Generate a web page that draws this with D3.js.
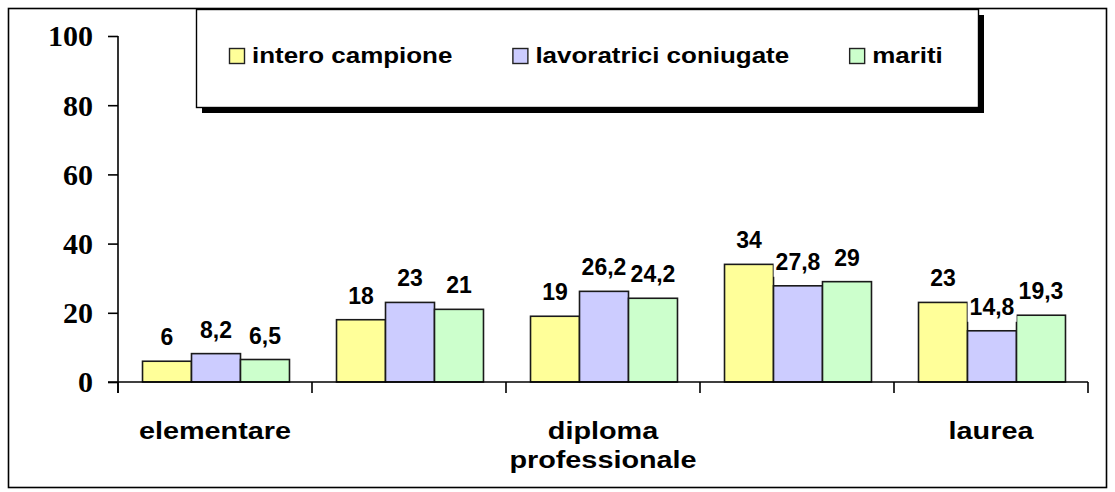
<!DOCTYPE html>
<html>
<head>
<meta charset="utf-8">
<script src="https://cdn.jsdelivr.net/npm/d3@7"></script>
<style>
  body { margin: 0; background: #fff; }
  svg { display: block; }
</style>
</head>
<body>
<svg id="chart"></svg>
<script>
// data
var categories = ["elementare", "c2", "diploma professionale", "c4", "laurea"];
var tickLabels = [["elementare"], [], ["diploma", "professionale"], [], ["laurea"]];
var seriesNames = ["intero campione", "lavoratrici coniugate", "mariti"];
var interoCampione = [6, 18, 19, 34, 23];
var lavoratriciConiugate = [8.2, 23, 26.2, 27.8, 14.8];
var mariti = [6.5, 21, 24.2, 29, 19.3];
var yTicks = [0, 20, 40, 60, 80, 100];
var colors = ["#FFFF99", "#CCCCFF", "#CCFFCC"];

var seriesValues = [interoCampione, lavoratriciConiugate, mariti];

var width = 1115, height = 492;
var margin = { top: 36, right: 27, bottom: 110, left: 118 };

var svg = d3.select("#chart")
  .attr("width", width)
  .attr("height", height);

var sans = "'Liberation Sans', Arial, sans-serif";
var serif = "'Liberation Serif', 'Times New Roman', serif";

// outer frame
svg.append("rect")
  .attr("x", 8.5).attr("y", 8.5)
  .attr("width", 1098).attr("height", 479)
  .attr("fill", "none")
  .attr("stroke", "#000")
  .attr("stroke-width", 1.6);

var x0 = d3.scaleBand()
  .domain(d3.range(categories.length))
  .range([margin.left, width - margin.right])
  .padding(0);

var x1 = d3.scaleBand()
  .domain(d3.range(seriesNames.length))
  .range([0, x0.bandwidth()])
  .paddingInner(0)
  .paddingOuter(0.48);

var y = d3.scaleLinear()
  .domain([0, 100])
  .range([height - margin.bottom, margin.top]);

// bars
var groups = svg.append("g").selectAll("g")
  .data(categories)
  .enter().append("g")
  .attr("transform", function(d, i) { return "translate(" + (x0(i) + 1) + ",0)"; });

groups.selectAll("rect")
  .data(function(d, i) {
    return seriesValues.map(function(vals, s) { return { s: s, v: vals[i] }; });
  })
  .enter().append("rect")
  .attr("x", function(d) { return x1(d.s); })
  .attr("width", x1.bandwidth())
  .attr("y", function(d) { return y(d.v); })
  .attr("height", function(d) { return y(0) - y(d.v); })
  .attr("fill", function(d) { return colors[d.s]; })
  .attr("stroke", "#1a1a1a")
  .attr("stroke-width", 1.6);

// value labels with white background
var labels = groups.selectAll("g.lab")
  .data(function(d, i) {
    return seriesValues.map(function(vals, s) { return { s: s, v: vals[i] }; });
  })
  .enter().append("g").attr("class", "lab");

labels.append("rect").attr("fill", "#fff");
labels.append("text")
  .attr("x", function(d) { return x1(d.s) + x1.bandwidth() / 2; })
  .attr("y", function(d) { return y(d.v) - 16; })
  .attr("text-anchor", "middle")
  .style("font-family", sans)
  .style("font-weight", "bold")
  .style("font-size", "23px")
  .text(function(d) { return String(d.v).replace(".", ","); });

labels.each(function() {
  var g = d3.select(this);
  var b = g.select("text").node().getBBox();
  g.select("rect")
    .attr("x", b.x - 2).attr("y", b.y + 2)
    .attr("width", b.width + 4).attr("height", b.height);
});

// y axis
var yAxis = d3.axisLeft(y)
  .tickValues(yTicks)
  .tickSize(10)
  .tickPadding(15)
  .tickFormat(d3.format("d"));

var gy = svg.append("g")
  .attr("transform", "translate(" + margin.left + ",0)")
  .call(yAxis);
gy.select(".domain").remove();
gy.selectAll("line").attr("stroke", "#000").attr("stroke-width", 1.6);
gy.selectAll("text")
  .style("font-family", serif)
  .style("font-weight", "bold")
  .style("font-size", "30px")
  .attr("fill", "#000")
  .attr("dy", "0.33em");
gy.append("line")
  .attr("x1", 0).attr("x2", 0)
  .attr("y1", y(100)).attr("y2", y(0) + 11)
  .attr("stroke", "#000").attr("stroke-width", 1.6);

// x axis
var gx = svg.append("g")
  .attr("transform", "translate(0," + y(0) + ")");
gx.append("line")
  .attr("x1", margin.left - 10).attr("x2", width - margin.right)
  .attr("stroke", "#000").attr("stroke-width", 1.6);
gx.selectAll("line.tick")
  .data(d3.range(categories.length + 1))
  .enter().append("line")
  .attr("class", "tick")
  .attr("x1", function(i) { return margin.left + i * x0.bandwidth(); })
  .attr("x2", function(i) { return margin.left + i * x0.bandwidth(); })
  .attr("y1", 0).attr("y2", 11)
  .attr("stroke", "#000").attr("stroke-width", 1.6);

var stretch = 1.2;
gx.selectAll("text.cat")
  .data(tickLabels)
  .enter().append("text")
  .attr("class", "cat")
  .attr("text-anchor", "middle")
  .attr("transform", function(d, i) {
    return "translate(" + (x0(i) + x0.bandwidth() / 2) + ",57) scale(" + stretch + ",1)";
  })
  .style("font-family", sans)
  .style("font-weight", "bold")
  .style("font-size", "24px")
  .selectAll("tspan")
  .data(function(d) { return d; })
  .enter().append("tspan")
  .attr("x", 0)
  .attr("y", function(d, j) { return j * 29; })
  .text(function(d) { return d; });

// legend
var legend = svg.append("g");
legend.append("rect")
  .attr("x", 202).attr("y", 15)
  .attr("width", 782).attr("height", 98)
  .attr("fill", "#000");
legend.append("rect")
  .attr("x", 196.5).attr("y", 9.5)
  .attr("width", 782).attr("height", 98)
  .attr("fill", "#fff")
  .attr("stroke", "#000")
  .attr("stroke-width", 1.4);

var legStretch = 1.18;
var lx = 229;
seriesNames.forEach(function(name, i) {
  var item = legend.append("g").attr("transform", "translate(" + lx + ",0)");
  item.append("rect")
    .attr("x", 0.5).attr("y", 48.5)
    .attr("width", 15).attr("height", 15)
    .attr("fill", colors[i])
    .attr("stroke", "#222")
    .attr("stroke-width", 1.4);
  var t = item.append("text")
    .attr("transform", "translate(23,63) scale(" + legStretch + ",1)")
    .style("font-family", sans)
    .style("font-weight", "bold")
    .style("font-size", "22px")
    .text(name);
  var w = t.node().getComputedTextLength() * legStretch;
  lx += 23 + w + 60;
});
</script>
</body>
</html>
